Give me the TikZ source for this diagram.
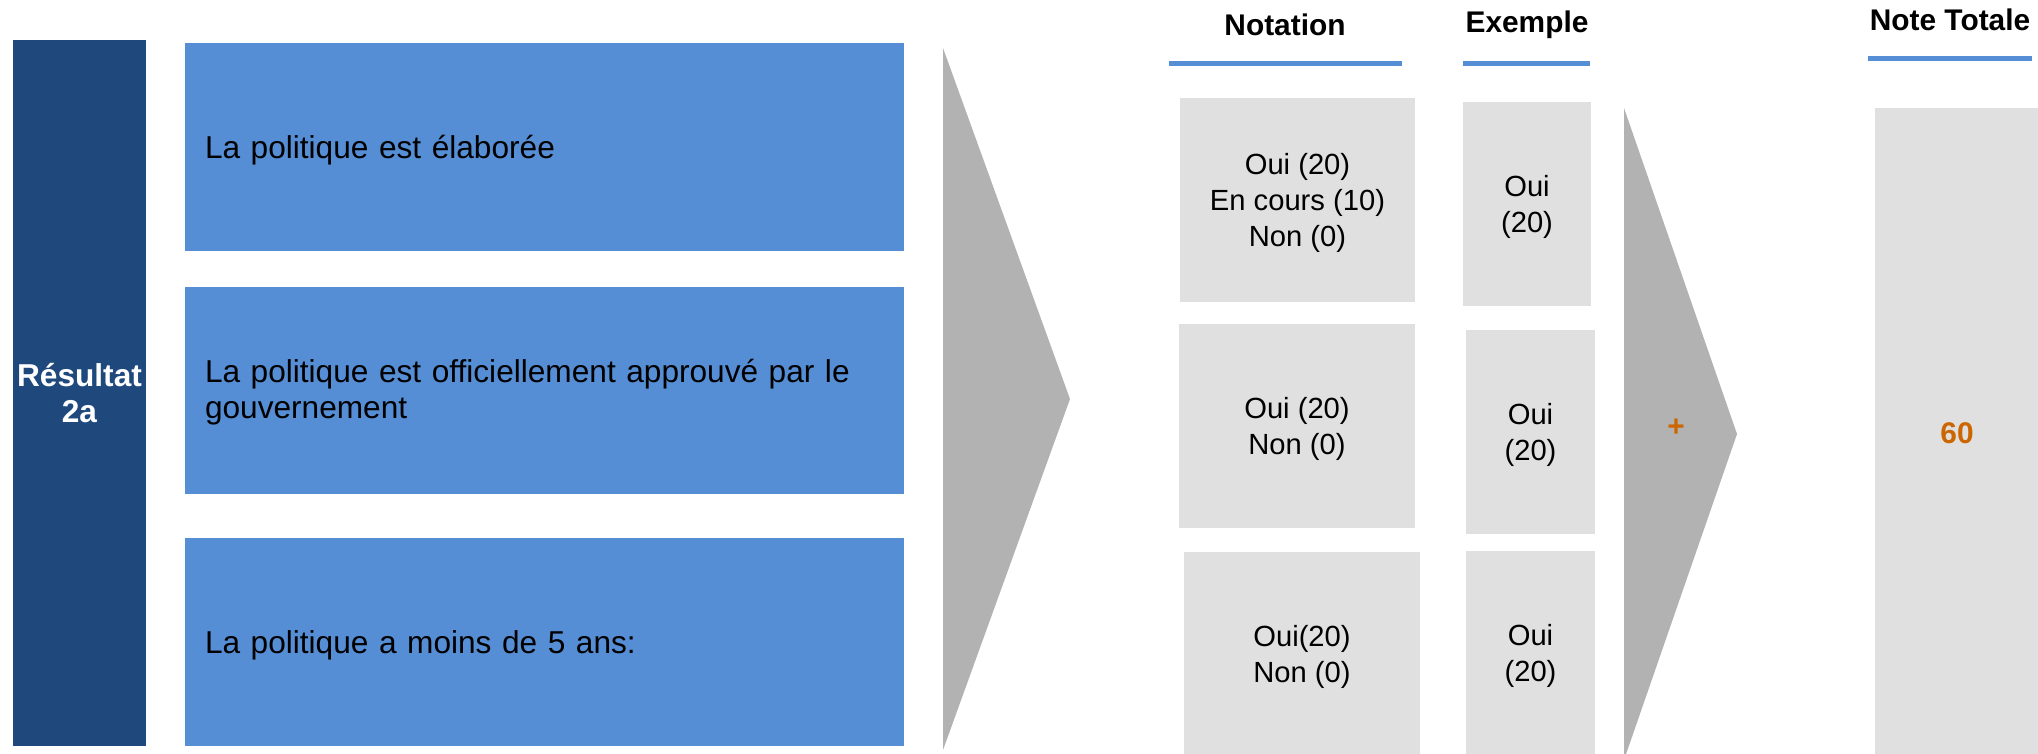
\documentclass[tikz,border=0pt]{standalone}
\usepackage{fontspec}
\setmainfont{Liberation Sans}
\usetikzlibrary{positioning, calc}
\definecolor{resnavy}{HTML}{1F497D}
\definecolor{resblue}{HTML}{558ED5}
\definecolor{resgrey}{HTML}{E0E0E0}
\definecolor{reschev}{HTML}{B2B2B2}
\definecolor{resorange}{HTML}{CC6600}

\begin{document}
\begin{tikzpicture}[font=\fontsize{17}{20.5}\selectfont,
    crit/.style={fill=resblue, font=\fontsize{18}{20}\selectfont, text width=13.58cm, align=left,
                 text depth=0pt, minimum height=4.16cm, inner sep=0.4cm},
    cell/.style={fill=resgrey, font=\fontsize{16.6}{20.5}\selectfont, align=center,
                 text depth=0pt, minimum height=4.08cm, inner sep=0pt},
    head/.style={font=\fontsize{17}{20.5}\selectfont\bfseries},
    hrule/.style={fill=resblue, minimum height=0.1cm, inner sep=0pt},
    score/.style={text=resorange, font=\fontsize{17}{20.5}\selectfont\bfseries}]
  \useasboundingbox (0,0) rectangle (40.76,-15.06);
  % left column
  \node[fill=resnavy, text=white, font=\fontsize{18}{20.5}\selectfont\bfseries, align=center,
        minimum width=2.66cm, minimum height=14.12cm, inner sep=0pt] (res) at (1.59,-7.86) {Résultat\\2a};
  \node[crit] (crit1) at (10.89,-2.94) {La politique est élaborée};
  \node[crit, minimum height=4.14cm, text depth=0.77cm] (crit2) at (10.89,-7.81)
    {La politique est officiellement approuvé par le\\gouvernement};
  \node[crit] (crit3) at (10.89,-12.84) {La politique a moins de 5 ans:};
  \fill[reschev] (18.86,-0.96) -- (18.86,-15.0) -- (21.4,-7.98) -- cycle;
  % headers
  \node[hrule, minimum width=4.66cm] (rnot) at (25.71,-1.26) {};
  \node[hrule, minimum width=2.54cm] (rex) at (30.53,-1.26) {};
  \node[hrule, minimum width=3.28cm] (rtot) at (39.0,-1.16) {};
  \node[head] (hnot) at (25.7,-0.5) {Notation};
  \node[head] (hex) at (30.54,-0.5) {Exemple};
  \node[head] (htot) at (39.0,-0.4) {Note Totale};
  % notation and example cells
  \node[cell, minimum width=4.7cm] (not1) at (25.95,-4.0) {Oui (20)\\En cours (10)\\Non (0)};
  \node[cell, minimum width=4.72cm] (not2) at (25.94,-8.52) {Oui (20)\\Non (0)};
  \node[cell, minimum width=4.72cm] (not3) at (26.04,-13.08) {Oui(20)\\Non (0)};
  \node[cell, minimum width=2.56cm] (ex1) at (30.54,-4.08) {Oui\\(20)};
  \node[cell, minimum width=2.58cm] (ex2) at (30.61,-8.64) {Oui\\(20)};
  \node[cell, minimum width=2.58cm] (ex3) at (30.61,-13.06) {Oui\\(20)};
  \fill[reschev] (32.48,-2.16) -- (32.48,-15.2) -- (34.74,-8.68) -- cycle;
  \node[score] (plus) at (33.52,-8.56) {+};
  % total
  \node[fill=resgrey, minimum width=3.3cm, minimum height=13.04cm, inner sep=0pt] (tot) at (39.14,-8.68) {};
  \node[score] (totval) at (39.14,-8.66) {60};
\end{tikzpicture}
\end{document}
